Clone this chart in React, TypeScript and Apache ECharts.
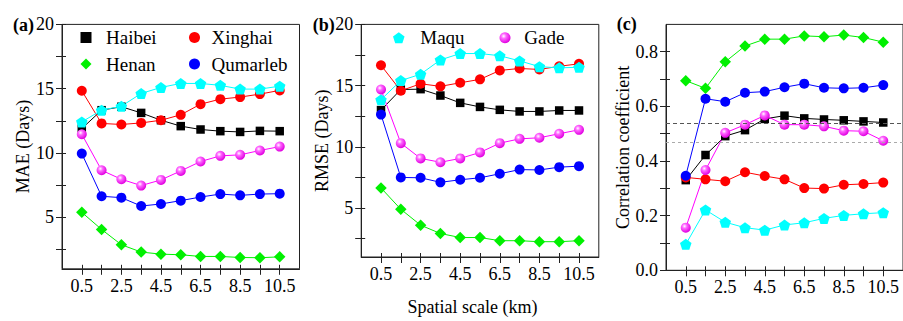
import React, { useEffect, useRef } from "react";
import * as echarts from "echarts";

const FONT = "'Liberation Serif', 'Times New Roman', serif";

// x positions (spatial scale, km)
const scales = [0.5, 1.5, 2.5, 3.5, 4.5, 5.5, 6.5, 7.5, 8.5, 9.5, 10.5];
const xLabelValues = [0.5, 2.5, 4.5, 6.5, 8.5, 10.5];
const xTickValues = [0.5, 1.5, 2.5, 3.5, 4.5, 5.5, 6.5, 7.5, 8.5, 9.5, 10.5];

const dayLabelValues = [5, 10, 15, 20];
const dayTickValues = [2.5, 5, 7.5, 10, 12.5, 15, 17.5, 20];
const corrLabelValues = [0, 0.2, 0.4, 0.6, 0.8];
const corrTickValues = [0, 0.1, 0.2, 0.3, 0.4, 0.5, 0.6, 0.7, 0.8];

// (a) MAE
const maeHaibei = [11.9, 13.33, 13.6, 13.12, 12.55, 12.09, 11.83, 11.7, 11.64, 11.72, 11.7];
const maeXinghai = [14.84, 12.3, 12.22, 12.34, 12.55, 12.97, 13.8, 14.19, 14.35, 14.58, 14.87];
const maeHenan = [5.39, 4.06, 2.87, 2.3, 2.14, 2.09, 1.96, 1.96, 1.88, 1.86, 1.93];
const maeQumarleb = [9.96, 6.64, 6.53, 5.88, 6.04, 6.3, 6.58, 6.81, 6.71, 6.81, 6.84];
const maeMaqu = [12.42, 13.33, 13.64, 14.63, 15.1, 15.41, 15.41, 15.26, 14.97, 14.97, 15.2];
const maeGade = [11.46, 8.66, 7.96, 7.47, 7.91, 8.61, 9.34, 9.78, 9.86, 10.2, 10.5];

// (b) RMSE
const rmseHaibei = [13.0, 14.68, 14.71, 14.19, 13.59, 13.26, 13.02, 12.89, 12.89, 12.97, 12.97];
const rmseXinghai = [16.66, 14.58, 15.15, 14.94, 15.23, 15.51, 16.24, 16.4, 16.32, 16.58, 16.78];
const rmseHenan = [6.64, 4.9, 3.6, 2.92, 2.59, 2.59, 2.33, 2.33, 2.25, 2.25, 2.33];
const rmseQumarleb = [12.63, 7.5, 7.47, 7.1, 7.31, 7.47, 7.8, 8.14, 8.11, 8.34, 8.42];
const rmseMaqu = [13.85, 15.41, 15.93, 17.1, 17.62, 17.62, 17.44, 17.02, 16.55, 16.45, 16.5];
const rmseGade = [14.68, 10.3, 9.05, 8.74, 9.05, 9.54, 10.3, 10.65, 10.74, 11.07, 11.39];

// (c) Correlation coefficient
const corrHaibei = [0.33, 0.422, 0.491, 0.513, 0.554, 0.566, 0.556, 0.552, 0.549, 0.545, 0.541];
const corrXinghai = [0.34, 0.333, 0.326, 0.359, 0.345, 0.333, 0.301, 0.299, 0.313, 0.316, 0.321];
const corrHenan = [0.694, 0.666, 0.763, 0.821, 0.846, 0.846, 0.858, 0.855, 0.861, 0.852, 0.835];
const corrQumarleb = [0.346, 0.628, 0.617, 0.65, 0.654, 0.67, 0.683, 0.668, 0.666, 0.668, 0.678];
const corrMaqu = [0.095, 0.221, 0.176, 0.156, 0.147, 0.166, 0.174, 0.19, 0.201, 0.207, 0.211];
const corrGade = [0.156, 0.367, 0.503, 0.533, 0.567, 0.533, 0.533, 0.527, 0.511, 0.509, 0.474];

const corrThresholds = [0.544, 0.472];

const SQUARE = "path://M0,0L1,0L1,1L0,1Z";
const DIAMOND = "path://M0,-1L1,0L0,1L-1,0Z";
const PENTAGON = "path://M0,-10L9.51,-3.09L5.88,8.09L-5.88,8.09L-9.51,-3.09Z";

const gadeFill = new echarts.graphic.RadialGradient(0.38, 0.35, 0.65, [
  { offset: 0, color: "#ffffff" },
  { offset: 0.35, color: "#ff66ff" },
  { offset: 1, color: "#e000e0" },
]);

const styles: Record<string, any> = {
  Haibei: { symbol: "rect", size: 8.5, color: "#000000", fill: "#000000" },
  Xinghai: { symbol: "circle", size: 10, color: "#ff0000", fill: "#ff0000" },
  Henan: { symbol: DIAMOND, size: 11.5, color: "#00f000", fill: "#00f000" },
  Qumarleb: { symbol: "circle", size: 10, color: "#0000ff", fill: "#0000ff" },
  Maqu: { symbol: PENTAGON, size: [11.5, 11], color: "#00ffff", fill: "#00ffff" },
  Gade: { symbol: "circle", size: 10, color: "#ff00ff", fill: gadeFill },
};

const AXIS_COLOR = "#222";

const grids = [
  { left: 62, top: 24.4, width: 237.5, height: 244.4 },
  { left: 361.2, top: 24.4, width: 237.6, height: 244.4 },
  { left: 666, top: 24.4, width: 238, height: 245.9 },
];

function makeSeries(name: string, values: number[], g: number, extra: any = {}) {
  const s = styles[name];
  return {
    type: "line",
    name,
    xAxisIndex: g * 2,
    yAxisIndex: g * 2,
    data: scales.map((x, i) => [x, values[i]]),
    symbol: s.symbol,
    symbolSize: s.size,
    itemStyle: { color: s.fill, borderWidth: 0 },
    lineStyle: { color: s.color, width: 1 },
    emphasis: { disabled: true },
    ...extra,
  };
}

function xAxes(g: number) {
  const base = {
    type: "value",
    gridIndex: g,
    min: -0.5,
    max: 11.5,
    position: "bottom",
    splitLine: { show: false },
  };
  const main: any = {
    ...base,
    axisLine: { show: true, onZero: false, lineStyle: { color: AXIS_COLOR, width: 1 } },
    axisTick: { show: true, inside: false, length: 6, customValues: xTickValues, lineStyle: { color: AXIS_COLOR } },
    axisLabel: {
      show: true,
      customValues: xLabelValues,
      formatter: (v: number) => String(v),
      fontSize: 18,
      fontFamily: FONT,
      color: "#000",
      margin: 8,
    },
  };
  if (g === 1) {
    main.name = "Spatial scale (km)";
    main.nameLocation = "middle";
    main.nameGap = 41;
    main.nameTextStyle = { fontSize: 18, fontFamily: FONT, color: "#000", padding: [0, 15, 0, 0] };
  }
  const overlay = {
    ...base,
    axisLine: { show: false, onZero: false },
    axisTick: { show: true, inside: true, length: 4, customValues: xTickValues, lineStyle: { color: AXIS_COLOR } },
    axisLabel: { show: false },
  };
  return [main, overlay];
}

function yAxes(g: number, name: string, min: number, max: number, labels: number[], ticks: number[], fmt: (v: number) => string, nameGap: number) {
  const base = {
    type: "value",
    gridIndex: g,
    min,
    max,
    position: "left",
    splitLine: { show: false },
  };
  const main = {
    ...base,
    name,
    nameLocation: "middle",
    nameGap,
    nameTextStyle: { fontSize: 18, fontFamily: FONT, color: "#000" },
    axisLine: { show: true, onZero: false, lineStyle: { color: AXIS_COLOR, width: 1 } },
    axisTick: { show: true, inside: false, length: 6, customValues: ticks, lineStyle: { color: AXIS_COLOR } },
    axisLabel: {
      show: true,
      customValues: labels,
      formatter: fmt,
      fontSize: 18,
      fontFamily: FONT,
      color: "#000",
      margin: 8,
    },
  };
  const overlay = {
    ...base,
    axisLine: { show: false, onZero: false },
    axisTick: { show: true, inside: true, length: 4, customValues: ticks, lineStyle: { color: AXIS_COLOR } },
    axisLabel: { show: false },
  };
  return [main, overlay];
}

function legend(items: { name: string; icon: string }[], left: number, top: number, itemWidth: number) {
  return {
    orient: "vertical",
    left,
    top,
    padding: 0,
    itemWidth,
    itemHeight: 11,
    itemGap: 7.6,
    selectedMode: false,
    symbolKeepAspect: true,
    data: items,
    textStyle: { fontSize: 19, fontFamily: FONT, color: "#000", lineHeight: 18 },
  };
}

export default function App() {
  const ref = useRef<HTMLDivElement>(null);
  useEffect(() => {
    if (!ref.current) return;
    const chart = echarts.init(ref.current, undefined, { renderer: "svg" });
    const panelTitle = (text: string, left: number, top: number) => ({
      text,
      left,
      top,
      padding: 0,
      textStyle: { fontSize: 18, fontWeight: "bold", fontFamily: FONT, color: "#000" },
    });
    chart.setOption({
      animation: false,
      backgroundColor: "#ffffff",
      title: [panelTitle("(a)", 13, 16), panelTitle("(b)", 312.7, 16), panelTitle("(c)", 616.7, 15)],
      legend: [
        legend([{ name: "Haibei", icon: SQUARE }, { name: "Henan", icon: DIAMOND }], 80.5, 28, 30),
        legend([{ name: "Xinghai", icon: "circle" }, { name: "Qumarleb", icon: "circle" }], 189, 28, 24),
        legend([{ name: "Maqu", icon: PENTAGON }], 393, 28.3, 33),
        legend([{ name: "Gade", icon: "circle" }], 499.5, 28.3, 28.6),
      ],
      grid: grids.map((g) => ({
        ...g,
        show: true,
        borderColor: AXIS_COLOR,
        borderWidth: 1,
        backgroundColor: "transparent",
        containLabel: false,
      })),
      xAxis: [...xAxes(0), ...xAxes(1), ...xAxes(2)],
      yAxis: [
        ...yAxes(0, "MAE (Days)", 1, 20, dayLabelValues, dayTickValues, (v) => String(v), 24),
        ...yAxes(1, "RMSE (Days)", 1, 20, dayLabelValues, dayTickValues, (v) => String(v), 24),
        ...yAxes(2, "Correlation coefficient", 0, 0.9, corrLabelValues, corrTickValues, (v) => v.toFixed(1), 28),
      ],
      series: [
        makeSeries("Haibei", maeHaibei, 0),
        makeSeries("Xinghai", maeXinghai, 0),
        makeSeries("Henan", maeHenan, 0),
        makeSeries("Qumarleb", maeQumarleb, 0),
        makeSeries("Maqu", maeMaqu, 0),
        makeSeries("Gade", maeGade, 0),
        makeSeries("Haibei", rmseHaibei, 1),
        makeSeries("Xinghai", rmseXinghai, 1),
        makeSeries("Henan", rmseHenan, 1),
        makeSeries("Qumarleb", rmseQumarleb, 1),
        makeSeries("Maqu", rmseMaqu, 1),
        makeSeries("Gade", rmseGade, 1),
        makeSeries("Haibei", corrHaibei, 2, {
          markLine: {
            silent: true,
            symbol: ["none", "none"],
            label: { show: false },
            data: [
              { yAxis: corrThresholds[0], lineStyle: { color: "#555", type: [4, 3], width: 1 } },
              { yAxis: corrThresholds[1], lineStyle: { color: "#aaa", type: [3, 3], width: 1 } },
            ],
          },
        }),
        makeSeries("Xinghai", corrXinghai, 2),
        makeSeries("Henan", corrHenan, 2),
        makeSeries("Qumarleb", corrQumarleb, 2),
        makeSeries("Maqu", corrMaqu, 2),
        makeSeries("Gade", corrGade, 2),
      ],
    });
    return () => chart.dispose();
  }, []);
  return (
    <div
      ref={ref}
      style={{ position: "fixed", left: 0, top: 0, width: 903, height: 321, background: "#fff" }}
    />
  );
}
